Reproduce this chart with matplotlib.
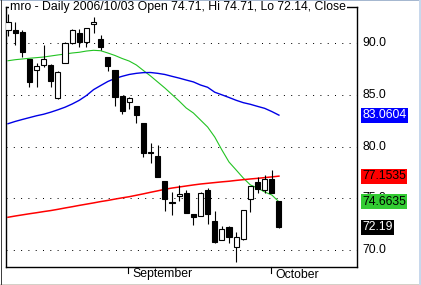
#!/usr/bin/env python3
"""
mro daily candlestick chart with moving averages (Aug-Oct 2006)
"""

import matplotlib
matplotlib.use('Agg')
import matplotlib.pyplot as plt
import matplotlib.transforms as mtransforms
from matplotlib.patches import Rectangle
import numpy as np

plt.rcParams['font.family'] = ['Liberation Sans', 'DejaVu Sans']
FS = 8.8

# =============================================================================
# Data
# =============================================================================
opens = [91.31, 91.31, 91.14, 88.47, 87.43, 87.92, 87.92, 84.69, 88.14, 90.02,
         90.99, 90.17, 91.89, 90.41, 88.66, 87.43, 84.92, 84.31, 83.95, 82.27,
         79.49, 79.10, 76.68, 74.60, 75.23, 75.49, 73.49, 73.32, 75.81, 72.81,
         70.97, 72.20, 70.26, 71.07, 74.91, 76.56, 75.81, 76.88, 74.71]
highs = [92.86, 92.11, 91.31, 88.50, 88.11, 89.85, 88.00, 87.30, 90.10, 91.40,
         91.40, 91.50, 92.54, 90.82, 88.69, 87.45, 84.95, 84.85, 83.97, 82.30,
         80.33, 80.17, 76.70, 75.65, 76.30, 75.81, 73.50, 75.60, 75.98, 73.78,
         72.35, 72.35, 71.77, 73.90, 76.22, 77.10, 77.26, 77.75, 74.71]
lows = [90.73, 89.85, 88.72, 85.79, 85.79, 87.75, 85.79, 84.65, 88.10, 89.95,
        89.66, 89.63, 90.99, 89.37, 87.37, 83.95, 83.17, 83.66, 82.27, 78.98,
        78.46, 77.08, 73.81, 73.39, 74.77, 73.55, 72.42, 73.30, 72.52, 70.71,
        70.95, 70.65, 68.87, 71.00, 73.71, 75.49, 75.49, 75.55, 72.14]
closes = [92.11, 90.99, 89.21, 86.30, 87.82, 88.47, 86.40, 87.27, 90.02, 91.31,
          90.17, 91.47, 92.11, 89.63, 87.85, 84.79, 83.49, 84.69, 83.05, 79.42,
          79.37, 77.10, 74.91, 74.56, 75.42, 73.61, 73.23, 75.55, 73.46, 70.80,
          72.00, 71.23, 71.29, 73.87, 76.20, 75.94, 76.88, 75.55, 72.19]

ma_green = [88.33, 88.43, 88.50, 88.57, 88.63, 88.69, 88.79, 88.89, 88.98, 89.08,
            89.15, 89.27, 89.34, 89.30, 89.08, 88.84, 88.55, 88.30, 87.92, 87.38,
            86.85, 86.27, 85.69, 85.06, 84.43, 83.75, 83.27, 82.59, 81.91, 80.94,
            79.69, 78.52, 77.75, 76.97, 76.30, 76.00, 75.62, 75.33, 74.6635]
ma_blue = [82.23, 82.45, 82.64, 82.82, 83.00, 83.15, 83.35, 83.58, 83.83, 84.14,
           84.50, 84.96, 85.53, 85.93, 86.32, 86.61, 86.82, 87.00, 87.11, 87.18,
           87.19, 87.11, 87.00, 86.82, 86.65, 86.46, 86.28, 85.98, 85.76, 85.28,
           85.03, 84.77, 84.50, 84.27, 84.11, 83.91, 83.72, 83.41, 83.0604]
ma_red = [73.17, 73.29, 73.40, 73.51, 73.61, 73.72, 73.82, 73.94, 74.07, 74.19,
          74.32, 74.44, 74.56, 74.69, 74.80, 74.93, 75.05, 75.16, 75.30, 75.44,
          75.59, 75.73, 75.88, 76.00, 76.10, 76.20, 76.30, 76.39, 76.46, 76.53,
          76.60, 76.66, 76.74, 76.81, 76.88, 76.94, 77.01, 77.08, 77.1535]

month_idx = [17, 37]
month_names = ['September', 'October']
price_ticks = [70.0, 75.0, 80.0, 85.0, 90.0]

title = 'mro - Daily 2006/10/03 Open 74.71, Hi 74.71, Lo 72.14, Close'

# =============================================================================
# Figure
# =============================================================================
W, H = 421, 285
fig = plt.figure(figsize=(W / 100, H / 100), dpi=100)
ax = fig.add_axes([6 / W, 18 / H, 351 / W, 260 / H])
ax.set_xlim(-0.28, 48.95)
ax.set_ylim(68.353, 93.535)

for s in ['left', 'right', 'bottom', 'top']:
    ax.spines[s].set_linewidth(1.0)
    ax.spines[s].set_color('black')
ax.set_xticks([])
ax.set_yticks([])

# dotted grid
for p in price_ticks:
    ax.axhline(p, color='black', linewidth=0.72, dashes=(1, 6.3), zorder=1)

x = np.arange(len(closes))

# moving averages
ax.plot(x, ma_green, color='#22c322', linewidth=0.8, zorder=2)
ax.plot(x, ma_blue, color='#0000e6', linewidth=1.0, zorder=2)
ax.plot(x, ma_red, color='#ff0000', linewidth=1.1, zorder=2)

# candles
o = np.array(opens)
c = np.array(closes)
ax.vlines(x, lows, highs, color='black', linewidth=0.8, zorder=3)
body_bottom = np.minimum(o, c)
body_h = np.maximum(np.abs(c - o), 0.08)
face = ['white' if cc > oo else 'black' for oo, cc in zip(o, c)]
ax.bar(x, body_h, bottom=body_bottom, width=0.72, color=face,
       edgecolor='black', linewidth=0.8, zorder=4)

# price labels on the right
ytrans = mtransforms.blended_transform_factory(ax.transAxes, ax.transData)
lx = (362 - 6) / 351
for p in price_ticks:
    ax.text(lx, p, f'{p:.1f}', transform=ytrans, fontsize=FS,
            va='center', ha='left', clip_on=False)

boxes = [(ma_blue[-1], '83.0604', '#0000ff', 'white'),
         (ma_red[-1], '77.1535', '#ff0000', 'black'),
         (ma_green[-1], '74.6635', '#33cc33', 'black'),
         (closes[-1], '72.19', 'black', 'white')]
for val, txt, bg, fg in boxes:
    ax.text(lx, val, txt, transform=ytrans, fontsize=FS, color=fg,
            va='center', ha='left', clip_on=False, zorder=10,
            bbox=dict(boxstyle='square,pad=0.12', facecolor=bg, edgecolor='none'))

# month markers below the axis
xtrans = mtransforms.blended_transform_factory(ax.transData, ax.transAxes)
for i, name in zip(month_idx, month_names):
    ax.plot([i - 0.1, i - 0.1], [0, -6 / 260], transform=xtrans, color='black',
            linewidth=0.8, clip_on=False)
    ax.text(i + 0.5, -7.5 / 260, name, transform=xtrans, fontsize=FS,
            va='center', ha='left', clip_on=False)

# title sitting on the top frame line
ax.text(4 / 351, 1.0, title, transform=ax.transAxes, fontsize=FS,
        va='center', ha='left', clip_on=False, zorder=10,
        bbox=dict(boxstyle='square,pad=0.1', facecolor='white', edgecolor='none'))

# window borders
fig.patches.append(Rectangle((0, 0), 1, 1.5 / H, transform=fig.transFigure,
                             facecolor='#d4d0c8', edgecolor='none'))
fig.patches.append(Rectangle((0, (H - 1) / H), 1, 1 / H, transform=fig.transFigure,
                             facecolor='#a6b8d0', edgecolor='none'))
fig.patches.append(Rectangle((1 / W, 0), 1 / W, 1, transform=fig.transFigure,
                             facecolor='#404040', edgecolor='none'))
fig.patches.append(Rectangle(((W - 2) / W, 0), 2 / W, 1, transform=fig.transFigure,
                             facecolor='#c8d8ec', edgecolor='none'))

plt.savefig('out.png', dpi=100)
plt.close()
